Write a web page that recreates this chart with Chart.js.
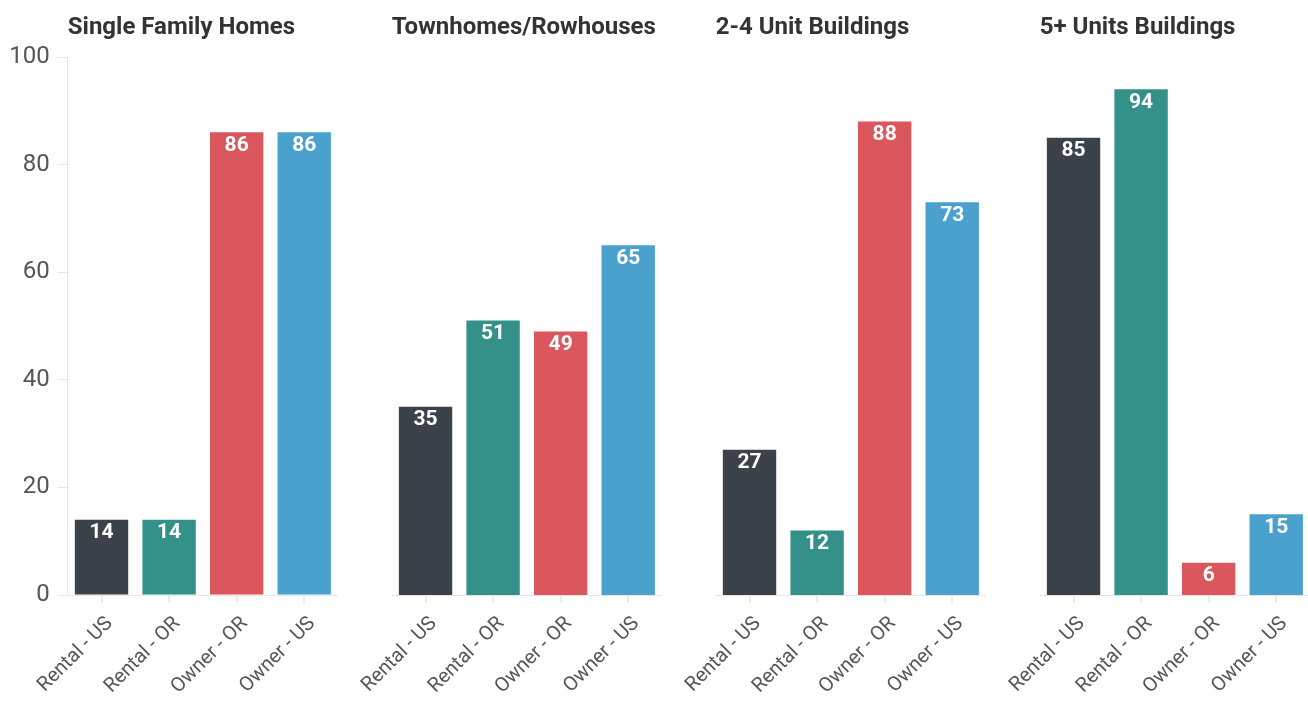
<!DOCTYPE html>
<html>
<head>
<meta charset="utf-8">
<script src="https://cdn.jsdelivr.net/npm/chart.js@4"></script>
<style>
  html, body { margin: 0; padding: 0; background: #fff; overflow: hidden; }
  #wrap { position: relative; width: 1308px; height: 707px; }
  #wrap canvas { position: absolute; top: 0; }
</style>
</head>
<body>
<div id="wrap"></div>
<script>
const categories = ['Rental - US', 'Rental - OR', 'Owner - OR', 'Owner - US'];
const panelTitles = ['Single Family Homes', 'Townhomes/Rowhouses', '2-4 Unit Buildings', '5+ Units Buildings'];
const singleFamily = [14, 14, 86, 86];
const townhomes = [35, 51, 49, 65];
const units2to4 = [27, 12, 88, 73];
const units5plus = [85, 94, 6, 15];
const barColors = ['#3b4249', '#33918a', '#d9575d', '#4ba1ce'];
const yMin = 0, yMax = 100, yStep = 20;

const panels = [singleFamily, townhomes, units2to4, units5plus];
const FONT = 'Roboto, "Liberation Sans", sans-serif';

// white value labels sitting inside the top of each bar
const valueLabels = {
  id: 'valueLabels',
  afterDatasetsDraw(chart) {
    const ctx = chart.ctx;
    const ds = chart.data.datasets[0];
    chart.getDatasetMeta(0).data.forEach((bar, i) => {
      ctx.save();
      ctx.font = 'bold 21px ' + FONT;
      ctx.textAlign = 'center';
      ctx.textBaseline = 'middle';
      ctx.lineJoin = 'round';
      ctx.lineWidth = 4;
      ctx.strokeStyle = ds.backgroundColor[i];
      ctx.strokeText(ds.data[i], bar.x, bar.y + 13);
      ctx.fillStyle = '#fff';
      ctx.fillText(ds.data[i], bar.x, bar.y + 13);
      ctx.restore();
    });
  }
};

// panel title, left aligned to the plot area
const panelTitle = {
  id: 'panelTitle',
  afterDraw(chart, args, opts) {
    const ctx = chart.ctx;
    ctx.save();
    ctx.font = 'bold 24px ' + FONT;
    ctx.fillStyle = '#333';
    ctx.textAlign = 'left';
    ctx.textBaseline = 'middle';
    ctx.fillText(opts.text, chart.chartArea.left, 28);
    ctx.restore();
  }
};

const wrap = document.getElementById('wrap');

panels.forEach((values, p) => {
  const canvas = document.createElement('canvas');
  canvas.style.left = (324 * p) + 'px';
  canvas.style.width = '338px';
  canvas.style.height = '707px';
  canvas.width = 338;
  canvas.height = 707;
  wrap.appendChild(canvas);
  const first = p === 0;

  new Chart(canvas.getContext('2d'), {
    type: 'bar',
    data: {
      labels: categories,
      datasets: [{
        data: values,
        backgroundColor: barColors,
        borderWidth: 0,
        categoryPercentage: 1,
        barPercentage: 0.79
      }]
    },
    options: {
      responsive: false,
      animation: false,
      layout: { padding: { top: 57, left: 0, right: 0, bottom: 0 } },
      plugins: {
        legend: { display: false },
        tooltip: { enabled: false },
        panelTitle: { text: panelTitles[p] }
      },
      scales: {
        x: {
          grid: { offset: false, drawOnChartArea: false, tickLength: 8, color: '#ececec', lineWidth: 2 },
          border: { display: true, color: '#e6e6e6', width: 1 },
          ticks: {
            minRotation: 45, maxRotation: 45, padding: 9, labelOffset: 8,
            color: '#555', font: { family: FONT, size: 20 }
          },
          afterFit(scale) { scale.height = 112; }
        },
        y: {
          min: yMin, max: yMax,
          grid: { display: first, drawOnChartArea: false, tickLength: 10, color: '#e6e6e6' },
          border: { display: first, color: '#e6e6e6', width: 1 },
          ticks: {
            display: first, stepSize: yStep, padding: 8,
            color: '#555', font: { family: FONT, size: 24 }
          },
          afterFit(scale) { scale.width = 67.75; }
        }
      }
    },
    plugins: [valueLabels, panelTitle]
  });
});
</script>
</body>
</html>
